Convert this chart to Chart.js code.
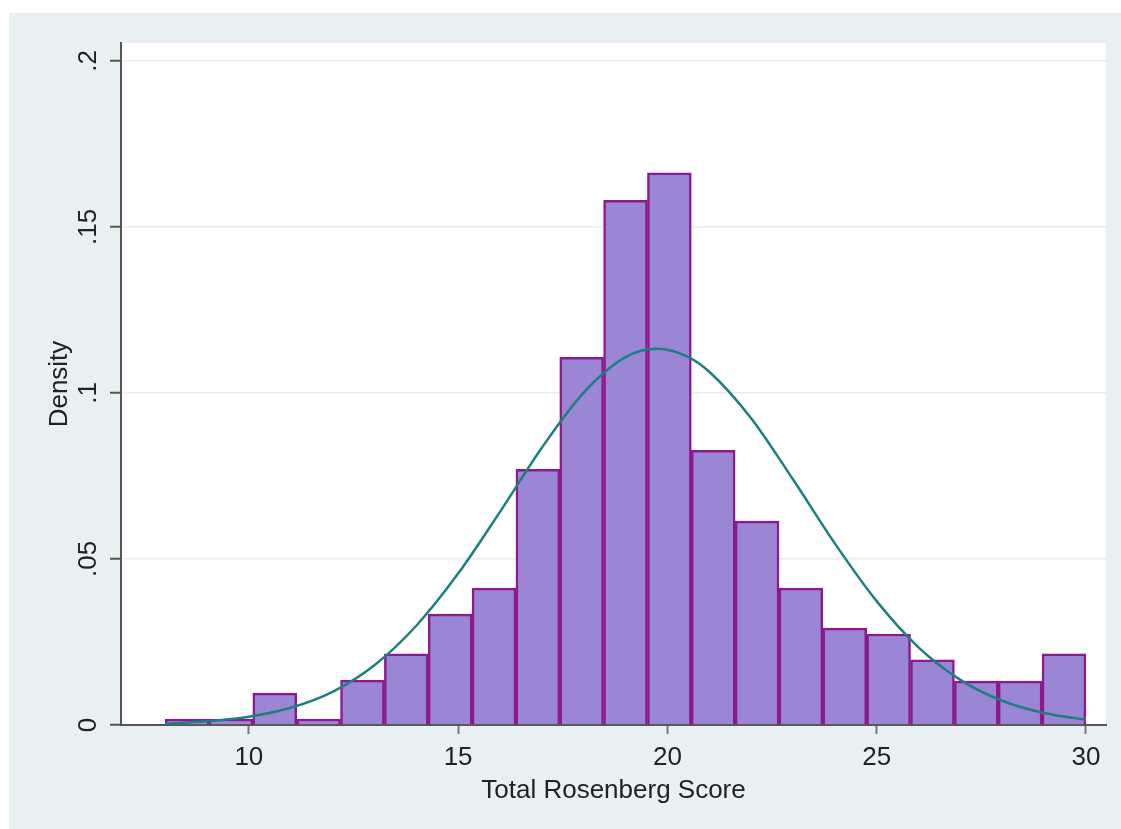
<!DOCTYPE html>
<html>
<head>
<meta charset="utf-8">
<script src="https://cdn.jsdelivr.net/npm/chart.js@4.4.1/dist/chart.umd.min.js"></script>
<style>
  html, body { margin:0; padding:0; background:#fff; }
  #wrap { width:1121px; height:829px; }
</style>
</head>
<body>
<div id="wrap"><canvas id="histChart" width="1121" height="829"></canvas></div>
<script>
// histogram of Total Rosenberg Score, 21 bins from 8 to 30
const binStart = 8;
const binWidth = 22 / 21;
const densities = [0.0018, 0.0018, 0.0096, 0.0018, 0.0135, 0.0214, 0.0334, 0.0412, 0.0770, 0.1107, 0.1580,
                   0.1663, 0.0827, 0.0614, 0.0412, 0.0292, 0.0274, 0.0196, 0.0132, 0.0132, 0.0214];

// normal density overlay
const curveX = [8, 9, 10, 11, 12, 13, 14, 15, 16, 17, 18, 19, 19.75, 20.5, 21, 22, 23, 24, 25, 26, 27, 28, 29, 30];
const curveY = [0.0004, 0.0011, 0.0025, 0.0052, 0.0100, 0.0180, 0.0299, 0.0456, 0.0642, 0.0835, 0.1001, 0.1108, 0.1133,
                0.1108, 0.1064, 0.0924, 0.0740, 0.0547, 0.0373, 0.0234, 0.0136, 0.0073, 0.0036, 0.0016];

const xTicks = [10, 15, 20, 25, 30];
const yTicks = [0, 0.05, 0.1, 0.15, 0.2];
const yTickLabels = ['0', '.05', '.1', '.15', '.2'];

const FONT = { family: '"Liberation Sans", Arial, Helvetica, sans-serif', size: 26 };
const BG = '#e8f0f2';

const barData = densities.map((d, i) => ({ x: binStart + (i + 0.5) * binWidth, y: d }));
const lineData = curveX.map((x, i) => ({ x, y: curveY[i] }));

const backdrop = {
  id: 'backdrop',
  beforeDraw(chart) {
    const { ctx, chartArea: a } = chart;
    ctx.save();
    ctx.fillStyle = '#fff';
    ctx.fillRect(0, 0, chart.width, chart.height);
    ctx.fillStyle = BG;
    ctx.fillRect(9, 13, chart.width - 9, chart.height - 13);
    ctx.fillStyle = '#fff';
    ctx.fillRect(a.left, a.top, a.right - a.left, a.bottom - a.top);
    ctx.restore();
  }
};

new Chart(document.getElementById('histChart'), {
  type: 'bar',
  data: {
    datasets: [
      { type:'line', data: lineData, borderColor:'#1f7f7f', borderWidth:2.5, pointRadius:0,
        cubicInterpolationMode:'monotone', fill:false, order:0 },
      { type:'bar', data: barData, backgroundColor:'#9a86d4', borderColor:'#8c1a8c', borderWidth:2.5,
        barPercentage:1, categoryPercentage:1, grouped:false, order:1 }
    ]
  },
  options: {
    responsive:false, animation:false, devicePixelRatio:1,
    layout:{ padding:{ left:0, right:15, top:43, bottom:0 } },
    plugins:{ legend:{display:false}, tooltip:{enabled:false} },
    scales:{
      x:{
        type:'linear', offset:false, min:6.945, max:30.48,
        afterBuildTicks: s => { s.ticks = xTicks.map(v => ({ value:v })); },
        afterFit: s => { s.height = 104; },
        grid:{ display:true, drawOnChartArea:false, offset:false, tickLength:9, tickColor:'#777', tickWidth:2 },
        border:{ color:'#555', width:2 },
        ticks:{ font:FONT, color:'#222', padding:8, maxRotation:0, callback: v => String(v) },
        title:{ display:true, text:'Total Rosenberg Score', font:FONT, color:'#222', padding:{ top:0, bottom:23 } }
      },
      y:{
        min:0, max:0.2054,
        afterBuildTicks: s => { s.ticks = yTicks.map(v => ({ value:v })); },
        afterFit: s => { s.width = 121; },
        grid:{ color:'#e6eef0', lineWidth:1.5, tickLength:11, tickColor:'#555', tickWidth:2 },
        border:{ color:'#555', width:2 },
        ticks:{ font:FONT, color:'#222', padding:3, minRotation:90, maxRotation:90, crossAlign:'center',
                callback: (v) => yTickLabels[yTicks.indexOf(v)] ?? '' },
        title:{ display:true, text:'Density', font:FONT, color:'#222', padding:{ top:44, bottom:0 } }
      }
    }
  },
  plugins:[backdrop]
});
</script>
</body>
</html>
